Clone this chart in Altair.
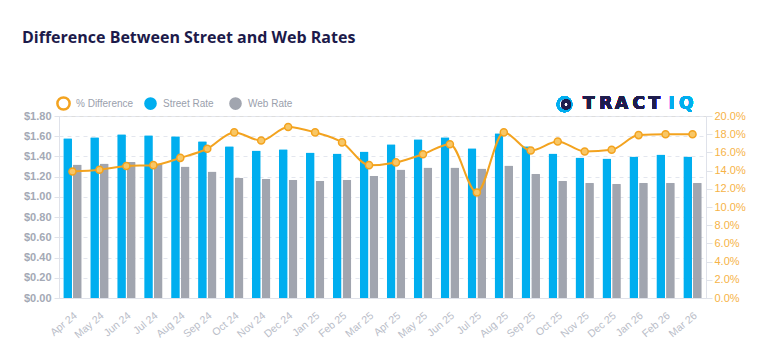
import altair as alt
import pandas as pd

months = ["Apr 24", "May 24", "Jun 24", "Jul 24", "Aug 24", "Sep 24", "Oct 24", "Nov 24",
          "Dec 24", "Jan 25", "Feb 25", "Mar 25", "Apr 25", "May 25", "Jun 25", "Jul 25",
          "Aug 25", "Sep 25", "Oct 25", "Nov 25", "Dec 25", "Jan 26", "Feb 26", "Mar 26"]
street_rate = [1.58, 1.59, 1.62, 1.61, 1.60, 1.55, 1.50, 1.46, 1.47, 1.44, 1.43, 1.45,
               1.52, 1.57, 1.59, 1.48, 1.63, 1.50, 1.43, 1.39, 1.38, 1.40, 1.42, 1.40]
web_rate = [1.32, 1.33, 1.345, 1.33, 1.30, 1.25, 1.19, 1.18, 1.17, 1.16, 1.17, 1.21,
            1.27, 1.29, 1.29, 1.28, 1.31, 1.23, 1.16, 1.14, 1.13, 1.14, 1.14, 1.14]
pct_diff = [13.9, 14.1, 14.5, 14.6, 15.4, 16.4, 18.2, 17.3, 18.8, 18.2, 17.1, 14.6,
            14.9, 15.8, 16.9, 11.6, 18.2, 16.2, 17.2, 16.1, 16.3, 17.9, 18.0, 18.0]
series_names = ["Street Rate", "Web Rate"]
series_colors = ["#00aeef", "#a1a5af"]
line_name = ["% Difference"]
line_color = ["#f3a31f"]
logo_letters = ["T", "R", "A", "C", "T", "I", "Q"]
logo_letter_colors = ["#1f1d4d"] * 5 + ["#00aeef"] * 2

bars_df = pd.DataFrame(
    [{"month": m, "series": series_names[0], "value": s} for m, s in zip(months, street_rate)]
    + [{"month": m, "series": series_names[1], "value": w} for m, w in zip(months, web_rate)]
)
line_df = pd.DataFrame({"month": months, "pct": pct_diff, "series": line_name[0]})

AXIS_GRAY = "#a4a9b5"
LBL_FONT = "Liberation Sans"

x_enc = alt.X("month:N", sort=months,
              scale=alt.Scale(paddingInner=0.316, paddingOuter=0.158),
              axis=alt.Axis(title=None, labelAngle=320, labelAlign="right", labelBaseline="top",
                            labelColor="#b9bdc8", labelFont=LBL_FONT, labelFontSize=10.5,
                            labelPadding=12, ticks=False, domain=True, domainColor="#dfe2ea",
                            grid=False, labelOverlap=False, labelBound=False, labelFlush=False))

bars = alt.Chart(bars_df).mark_bar(cornerRadiusTopLeft=1, cornerRadiusTopRight=1).encode(
    x=x_enc,
    xOffset=alt.XOffset("series:N", sort=series_names, scale=alt.Scale(paddingInner=0.1)),
    y=alt.Y("value:Q", scale=alt.Scale(domain=[0, 1.8], nice=False),
            axis=alt.Axis(title=None, values=[0, 0.2, 0.4, 0.6, 0.8, 1.0, 1.2, 1.4, 1.6, 1.8],
                          format="$.2f", labelColor=AXIS_GRAY, labelFont=LBL_FONT,
                          labelFontSize=11, labelFontWeight="bold", labelPadding=3,
                          tickSize=5, tickColor="#e0e3ea", domainColor="#dfe2ea",
                          gridColor="#e3e6ee", gridDash=[4, 4], orient="left")),
    color=alt.Color("series:N", sort=series_names,
                    scale=alt.Scale(domain=series_names, range=series_colors),
                    legend=alt.Legend(title=None, orient="none", direction="horizontal",
                                      legendX=84, legendY=-20, symbolType="circle",
                                      symbolSize=160, labelFont=LBL_FONT, labelFontSize=10,
                                      labelColor="#9aa0ac", columnPadding=14, labelOffset=5)),
)

line = alt.Chart(line_df).mark_line(interpolate="monotone", strokeWidth=2).encode(
    x=alt.X("month:N", sort=months),
    y=alt.Y("pct:Q", scale=alt.Scale(domain=[0, 20], nice=False),
            axis=alt.Axis(title=None, values=list(range(0, 21, 2)), orient="right",
                          labelExpr="format(datum.value, '.1f') + '%'",
                          labelColor="#f6b347", labelFont=LBL_FONT, labelFontSize=11,
                          labelPadding=2, tickSize=6, tickColor="#e0e3ea",
                          domainColor="#dfe2ea", grid=False)),
    stroke=alt.Stroke("series:N", scale=alt.Scale(domain=line_name, range=line_color),
                      legend=alt.Legend(title=None, orient="none", legendX=-3, legendY=-20,
                                        symbolType="circle", symbolSize=150,
                                        symbolFillColor="white", symbolStrokeWidth=2.5,
                                        labelFont=LBL_FONT, labelFontSize=10,
                                        labelColor="#9aa0ac", labelOffset=5)),
)

points = alt.Chart(line_df).mark_point(shape="circle", filled=True, fill="#f8c766", opacity=1,
                                       size=50, strokeWidth=1.5, stroke=line_color[0]).encode(
    x=alt.X("month:N", sort=months),
    y=alt.Y("pct:Q", scale=alt.Scale(domain=[0, 20], nice=False), axis=None),
)

NAVY = "#1f1d4d"
logo_ring = alt.Chart(line_df).mark_point(shape="circle", filled=False, stroke="#00aeef",
                                          strokeWidth=2.5, size=180).encode(
    x=alt.value(505.5), y=alt.value(-11.7))
logo_core = alt.Chart(line_df).mark_point(shape="circle", filled=False, stroke=NAVY,
                                          strokeWidth=3, size=50).encode(
    x=alt.value(507), y=alt.value(-11.5))

letter_x = [529.7, 546.7, 562.7, 579.7, 595.2, 612.7, 627.2]
logo_layers = [
    alt.Chart(line_df).mark_text(text=ch, font="DejaVu Sans", fontWeight="bold", fontSize=17,
                                 color=col, align="center", baseline="middle").encode(
        x=alt.value(xv), y=alt.value(-11.7))
    for ch, col, xv in zip(logo_letters, logo_letter_colors, letter_x)
]

chart = alt.layer(bars, line, points, logo_ring, logo_core, *logo_layers).resolve_scale(
    y="independent", color="independent"
).properties(
    width=647, height=182,
    autosize=alt.AutoSizeParams(type="none"),
    padding={"left": 51, "top": 108, "right": 45, "bottom": 46},
    title=alt.TitleParams("Difference Between Street and Web Rates", anchor="start", frame="group",
                          font="Open Sans", fontSize=16, fontWeight="bold", color="#1c1a4a",
                          dx=-37, offset=47),
).configure_view(stroke=None).configure(background="white")

chart.save("out.html", embed_options={"renderer": "svg", "actions": False})
